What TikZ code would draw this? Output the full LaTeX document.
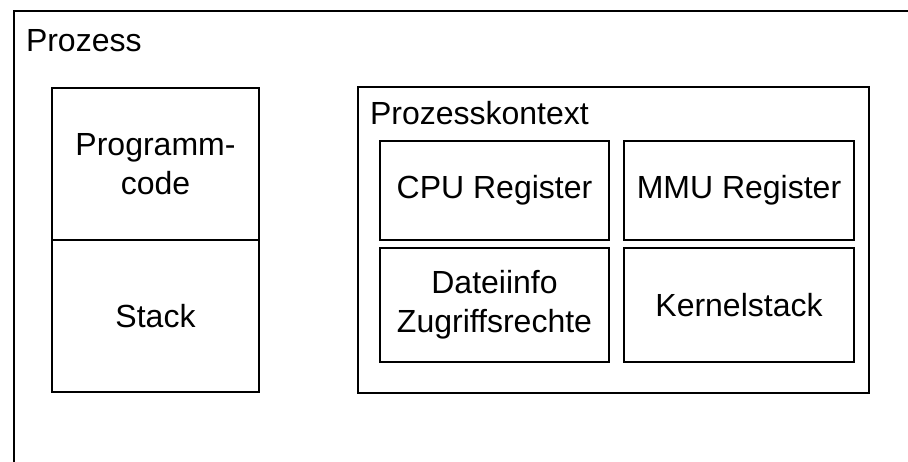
\documentclass[tikz,border=0pt]{standalone}
\usepackage{fontspec}
\setmainfont{Liberation Sans}
\begin{document}
\begin{tikzpicture}[x=1pt,y=-1pt,
  boxstyle/.style={draw=black, line width=1.8pt, rectangle, inner sep=0pt, outer sep=0pt, align=center,
    font=\fontsize{32}{39}\selectfont},
  titlestyle/.style={inner sep=0pt, outer sep=0pt, anchor=base west, font=\fontsize{32}{39}\selectfont}
]
\useasboundingbox (0,0) rectangle (908,462);
% outer process frame (open to the right and bottom)
\coordinate (obot) at (14,463);
\coordinate (otl) at (14,11);
\coordinate (otr) at (909,11);
\draw[line width=2pt] (obot) -- (otl) -- (otr);
\node[titlestyle] (ptitle) at (26,52) {Prozess};
% left column
\node[boxstyle, minimum width=207pt, minimum height=152pt] (prog) at (155.5,164) {Programm-\\code};
\node[boxstyle, minimum width=207pt, minimum height=152pt] (stack) at (155.5,316) {Stack};
% context
\node[boxstyle, minimum width=511pt, minimum height=306pt] (ctx) at (613.5,240) {};
\node[titlestyle] (ctitle) at (370,125) {Prozesskontext};
\node[boxstyle, minimum width=229pt, minimum height=99pt] (cpu) at (494.5,190.5) {CPU Register};
\node[boxstyle, minimum width=230pt, minimum height=99pt] (mmu) at (739,190.5) {MMU Register};
\node[boxstyle, minimum width=229pt, minimum height=114pt] (datei) at (494.5,305) {Dateiinfo\\Zugriffsrechte};
\node[boxstyle, minimum width=230pt, minimum height=114pt] (kernel) at (739,305) {Kernelstack};
\end{tikzpicture}
\end{document}
